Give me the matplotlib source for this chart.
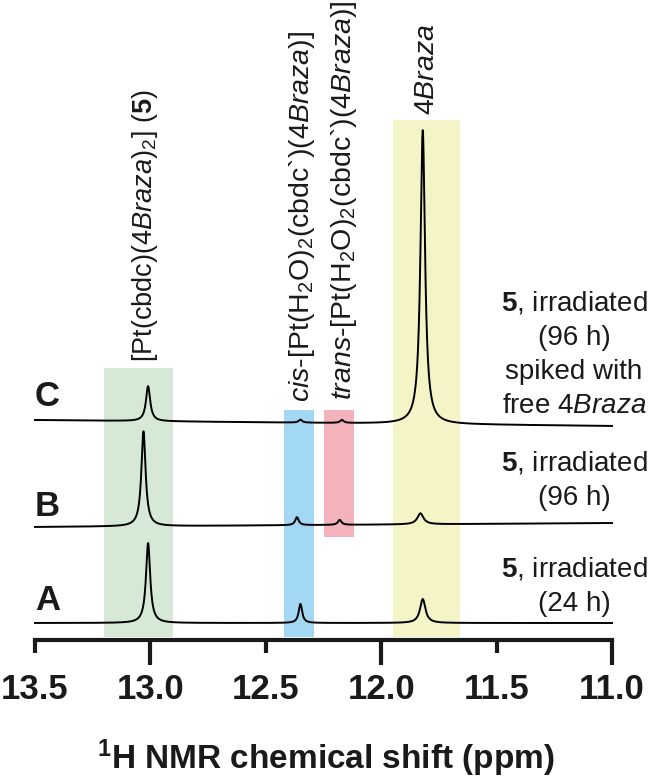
import matplotlib
matplotlib.use("Agg")
import matplotlib.pyplot as plt
import numpy as np
from matplotlib.patches import Rectangle

plt.rcParams['font.family'] = ['Liberation Sans', 'DejaVu Sans']
plt.rcParams['mathtext.fontset'] = 'custom'
plt.rcParams['mathtext.rm'] = 'Liberation Sans'
plt.rcParams['mathtext.it'] = 'Liberation Sans:italic'
plt.rcParams['mathtext.bf'] = 'Liberation Sans:bold'

# chemical shift axis
xmin, xmax = 11.0, 13.5
long_ticks = [13.0, 12.0, 11.0]
long_labels = ['13.0', '12.0', '11.0']
short_ticks = [13.5, 12.5, 11.5]
short_labels = ['13.5', '12.5', '11.5']

# traces (bottom to top): baseline at left / right end, peak positions, heights, half widths
trace_names = ['A', 'B', 'C']
name_y = [40, 134, 243]
base_left = [17, 113, 220]
base_right = [17, 117, 214]
peak_ppm = [[13.01, 12.35, 11.82],
            [13.03, 12.365, 12.18, 11.83],
            [13.01, 12.35, 12.17, 11.82]]
peak_height = [[80, 19, 24],
               [95, 8, 5, 11],
               [35, 3, 3, 294]]
peak_hwhm = [[0.011, 0.009, 0.014],
             [0.011, 0.009, 0.009, 0.016],
             [0.011, 0.009, 0.009, 0.012]]

# shaded regions: ppm from, ppm to, bottom, top, colour
band_from = [13.20, 12.42, 12.25, 11.95]
band_to = [12.90, 12.29, 12.12, 11.66]
band_bottom = [3, 3, 103, 3]
band_top = [272, 230, 230, 520]
band_color = ['#d6e9d6', '#a3d8f4', '#f4b2ba', '#f4f4c6']

# rotated species labels
lab_ppm = [13.023, 12.343, 12.16, 11.80]
lab_bottom = [278, 238, 240, 525]
lab_size = [19.5, 20.5, 20.5, 20.5]
lab_text = [r'[Pt(cbdc)($\mathit{4Braza}$)$_2$] ($\mathbf{5}$)',
            r'$\mathit{cis}$-[Pt(H$_2$O)$_2$(cbdc`)($\mathit{4Braza}$)]',
            r'$\mathit{trans}$-[Pt(H$_2$O)$_2$(cbdc`)($\mathit{4Braza}$)]',
            r'$\mathit{4Braza}$']

# sample descriptions on the right
desc_text = [r'$\mathbf{5}$, irradiated' + '\n(24 h)',
             r'$\mathbf{5}$, irradiated' + '\n(96 h)',
             r'$\mathbf{5}$, irradiated' + '\n(96 h)\nspiked with\nfree ' + r'$\mathit{4Braza}$']
desc_top = [84, 190, 350]

fig = plt.figure(figsize=(6.52, 7.79), dpi=100)
ax = fig.add_axes([35/652, 139/779, 577/652, 640/779])

for i in range(4):
    ax.add_patch(Rectangle((band_to[i], band_bottom[i]), band_from[i] - band_to[i],
                           band_top[i] - band_bottom[i], color=band_color[i], lw=0, zorder=0))

ppm = np.linspace(xmax, xmin, 3000)
for k in range(3):
    y = base_left[k] + (base_right[k] - base_left[k]) * (xmax - ppm) / (xmax - xmin)
    for p, h, w in zip(peak_ppm[k], peak_height[k], peak_hwhm[k]):
        y = y + h * w**2 / ((ppm - p)**2 + w**2)
    ax.plot(ppm, y, color='black', lw=1.4, zorder=2, clip_on=False)
    ax.text(xmax, name_y[k], trace_names[k], fontsize=25, fontweight='bold',
            ha='left', va='center', zorder=3, color='#1a1a1a')

for i in range(4):
    ax.text(lab_ppm[i], lab_bottom[i], lab_text[i], rotation=90, fontsize=lab_size[i],
            ha='center', va='bottom', zorder=3, color='#1a1a1a')

for k in range(3):
    ax.text(11.165, desc_top[k], desc_text[k], fontsize=20, ha='center', va='top',
            linespacing=1.4, zorder=3, color='#1a1a1a')

ax.set_xlim(xmax, xmin)
ax.set_ylim(0, 640)
for s in ['top', 'right', 'left']:
    ax.spines[s].set_visible(False)
ax.spines['bottom'].set_linewidth(3)
ax.spines['bottom'].set_color('#1a1a1a')
ax.set_yticks([])
ax.set_xticks(long_ticks)
ax.set_xticklabels(long_labels, fontsize=25, fontweight='bold', color='#1a1a1a')
ax.set_xticks(short_ticks, minor=True)
ax.set_xticklabels(short_labels, minor=True, fontsize=25, fontweight='bold', color='#1a1a1a')
ax.tick_params(axis='x', which='major', length=18, width=3, pad=6, color='#1a1a1a')
ax.tick_params(axis='x', which='minor', length=9, width=3, pad=15, color='#1a1a1a')

fig.text(0.5, 1 - 758/779, r'$^\mathbf{1}$H NMR chemical shift (ppm)', fontsize=24,
         fontweight='bold', ha='center', va='center', color='#1a1a1a')

fig.savefig('out.png', dpi=100)
